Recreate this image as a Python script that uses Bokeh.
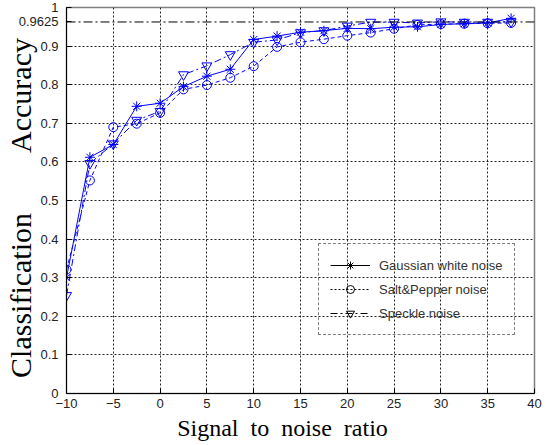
import numpy as np
from bokeh.plotting import figure
from bokeh.models import (Range1d, FixedTicker, Span, Legend, LegendItem,
                          ColumnDataSource)
from bokeh.embed import file_html
from bokeh.resources import INLINE

# ---- data ----
snr = [-10, -7.5, -5, -2.5, 0, 2.5, 5, 7.5, 10, 12.5, 15, 17.5, 20, 22.5, 25, 27.5, 30, 32.5, 35, 37.5]
gaussian = [0.300, 0.612, 0.645, 0.744, 0.752, 0.795, 0.822, 0.840, 0.917, 0.926,
            0.936, 0.940, 0.946, 0.945, 0.949, 0.950, 0.956, 0.958, 0.960, 0.972]
salt_pepper = [0.321, 0.552, 0.690, 0.699, 0.727, 0.788, 0.799, 0.818, 0.848, 0.898,
               0.910, 0.918, 0.927, 0.935, 0.945, 0.955, 0.957, 0.958, 0.959, 0.960]
speckle = [0.254, 0.596, 0.647, 0.708, 0.731, 0.826, 0.849, 0.878, 0.910, 0.916,
           0.935, 0.940, 0.952, 0.962, 0.962, 0.960, 0.963, 0.962, 0.962, 0.963]
series_names = ["Gaussian white noise", "Salt&Pepper noise", "Speckle noise"]
x_ticks = [-10, -5, 0, 5, 10, 15, 20, 25, 30, 35, 40]
y_ticks = [0, 0.1, 0.2, 0.3, 0.4, 0.5, 0.6, 0.7, 0.8, 0.9, 0.9625, 1]
y_tick_labels = ["0", "0.1", "0.2", "0.3", "0.4", "0.5", "0.6", "0.7", "0.8", "0.9", "0.9625", "1"]
y_grid = [0.1, 0.2, 0.3, 0.4, 0.5, 0.6, 0.7, 0.8, 0.9]
ref_level = 0.9625
x_title = "Signal\u00a0 to\u00a0 noise\u00a0 ratio"
y_title_parts = ["Classification", "Accuracy"]

NB = "\u00a0"
p = figure(width=546, height=445, output_backend="svg", toolbar_location=None,
           x_range=Range1d(-10, 40), y_range=Range1d(0, 1),
           min_border_left=66, min_border_right=12, min_border_top=7, min_border_bottom=52)
p.background_fill_color = "white"
p.border_fill_color = "white"
p.outline_line_color = "#808080"
p.outline_line_width = 1.5

# axes
p.xaxis.ticker = FixedTicker(ticks=x_ticks)
p.yaxis.ticker = FixedTicker(ticks=y_ticks)
p.yaxis.major_label_overrides = {t: s for t, s in zip(y_ticks, y_tick_labels)}
for ax in (p.xaxis[0], p.yaxis[0]):
    ax.axis_line_color = "black"
    ax.major_tick_line_color = "black"
    ax.major_tick_in = 5
    ax.major_tick_out = 0
    ax.minor_tick_line_color = None
    ax.major_label_text_font = "Liberation Sans"
    ax.major_label_text_font_size = "13px"
    ax.major_label_text_color = "#222222"
    ax.axis_label_text_font = "Liberation Serif"
    ax.axis_label_text_font_style = "normal"
    ax.axis_label_text_color = "black"
p.xaxis.major_label_standoff = 5
p.yaxis.major_label_standoff = 8

p.xaxis.axis_label = x_title + NB * 6
p.xaxis.axis_label_text_font_size = "24px"
p.xaxis.axis_label_standoff = 4
p.yaxis.axis_label = y_title_parts[0] + NB * 8 + y_title_parts[1] + NB * 2
p.yaxis.axis_label_text_font_size = "30px"
p.yaxis.axis_label_standoff = -21

# grid
p.xgrid.ticker = FixedTicker(ticks=x_ticks[1:-1])
p.ygrid.ticker = FixedTicker(ticks=y_grid)
for g in (p.xgrid[0], p.ygrid[0]):
    g.grid_line_color = "black"
    g.grid_line_dash = "2 2"
    g.grid_line_alpha = 0.85
    g.grid_line_width = 1

p.add_layout(Span(location=ref_level, dimension="width", line_color="black",
                  line_dash="9 3 2 3", line_width=1))

blue = "#0000ff"
# Gaussian
p.line(snr, gaussian, line_color=blue, line_width=1)
p.scatter(snr, gaussian, marker="asterisk", size=10, line_color=blue, line_width=1)
# Salt & pepper
p.line(snr, salt_pepper, line_color=blue, line_width=1, line_dash="4 3")
p.scatter(snr, salt_pepper, marker="circle", size=9, line_color=blue, fill_color=None, line_width=1)
# Speckle
p.line(snr, speckle, line_color=blue, line_width=1, line_dash="7 3 2 3")
p.scatter(snr, speckle, marker="inverted_triangle", size=10, line_color=blue, fill_color=None, line_width=1)

# legend (black samples; placeholder renderers draw nothing on the plot)
blank = ColumnDataSource(data=dict(x=np.array([np.nan]), y=np.array([np.nan])))
l1 = p.line("x", "y", source=blank, line_color="black", line_width=1)
m1 = p.scatter("x", "y", source=blank, marker="asterisk", size=9, line_color="black")
l2 = p.line("x", "y", source=blank, line_color="black", line_width=1, line_dash="2 2")
m2 = p.scatter("x", "y", source=blank, marker="circle", size=8, line_color="black", fill_color=None)
l3 = p.line("x", "y", source=blank, line_color="black", line_width=1, line_dash="7 3 2 3")
m3 = p.scatter("x", "y", source=blank, marker="inverted_triangle", size=9, line_color="black", fill_color=None)
legend = Legend(items=[LegendItem(label=series_names[0], renderers=[l1, m1]),
                       LegendItem(label=series_names[1], renderers=[l2, m2]),
                       LegendItem(label=series_names[2], renderers=[l3, m3])],
                location=(252, 58))
legend.border_line_color = "black"
legend.border_line_dash = "7 3 2 3"
legend.border_line_width = 1
legend.background_fill_alpha = 0
legend.label_text_font = "Liberation Sans"
legend.label_text_font_size = "13px"
legend.label_text_color = "#333333"
legend.glyph_width = 40
legend.glyph_height = 20
legend.spacing = 4
legend.padding = 11
legend.label_standoff = 9
legend.margin = 0
p.add_layout(legend, "center")

open("out.html", "w").write(file_html(p, INLINE))
